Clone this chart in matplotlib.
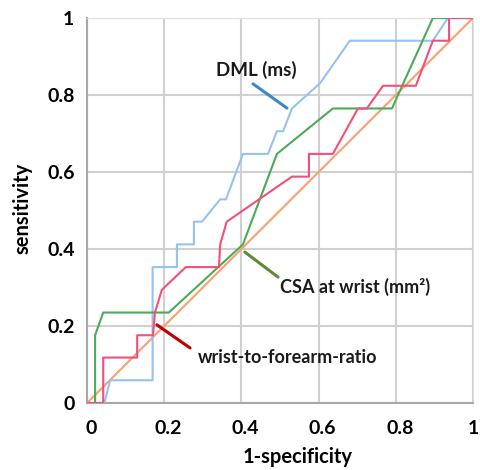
import matplotlib
matplotlib.use("Agg")
import matplotlib.pyplot as plt
from matplotlib.transforms import ScaledTranslation

plt.rcParams['font.family'] = ['Lato', 'DejaVu Sans']

# ROC curves (x = 1-specificity, y = sensitivity)
dml_x = [0, 0.045, 0.06, 0.17, 0.17, 0.233, 0.233, 0.277, 0.277, 0.298, 0.345, 0.36,
         0.404, 0.469, 0.492, 0.508, 0.531, 0.604, 0.681, 0.896, 0.935, 1.0]
dml_y = [0, 0, 0.059, 0.059, 0.353, 0.353, 0.412, 0.412, 0.471, 0.471, 0.529, 0.529,
         0.647, 0.647, 0.706, 0.706, 0.765, 0.831, 0.941, 0.941, 1.0, 1.0]

ratio_x = [0, 0.042, 0.042, 0.13, 0.13, 0.171, 0.176, 0.194, 0.256, 0.342, 0.345, 0.362,
           0.531, 0.575, 0.575, 0.637, 0.702, 0.725, 0.767, 0.852, 0.896, 0.938, 0.938, 1.0]
ratio_y = [0, 0, 0.118, 0.118, 0.176, 0.176, 0.235, 0.294, 0.353, 0.353, 0.412, 0.471,
           0.588, 0.588, 0.647, 0.647, 0.765, 0.765, 0.824, 0.824, 0.941, 0.941, 1.0, 1.0]

csa_x = [0, 0.021, 0.021, 0.042, 0.212, 0.404, 0.492, 0.637, 0.79, 0.896, 1.0]
csa_y = [0, 0, 0.176, 0.235, 0.235, 0.412, 0.647, 0.765, 0.765, 1.0, 1.0]

ref_x = [0, 1]
ref_y = [0, 1]

ticks = [0, 0.2, 0.4, 0.6, 0.8, 1]
tick_labels = ["0", "0.2", "0.4", "0.6", "0.8", "1"]

# callouts: text, text position, leader start, leader end, leader colour
callouts = [
    ("DML (ms)", (0.334, 0.865), (0.430, 0.829), (0.518, 0.766), "#3F86C8"),
    ("CSA at wrist (mm\u00b2)", (0.50, 0.301), (0.409, 0.392), (0.495, 0.327), "#5E8C36"),
    ("wrist-to-forearm-ratio", (0.288, 0.119), (0.181, 0.203), (0.267, 0.143), "#C00000"),
]

fig = plt.figure(figsize=(4.81, 4.70), dpi=100)
ax = fig.add_axes([87 / 481, 67 / 470, 386 / 481, 385 / 470])

ax.plot(ref_x, ref_y, color="#F9A070", lw=1.5, zorder=2)
ax.plot(dml_x, dml_y, color="#94C3EE", lw=1.5, zorder=3)
ax.plot(csa_x, csa_y, color="#4CAA58", lw=1.5, zorder=3)
ax.plot(ratio_x, ratio_y, color="#F2507A", lw=1.5, zorder=4)

ax.set_xlim(0, 1)
ax.set_ylim(0, 1)
ax.set_xticks(ticks)
ax.set_yticks(ticks)
ax.set_xticklabels(tick_labels, fontsize=14, fontweight="bold")
ax.set_yticklabels(tick_labels, fontsize=14, fontweight="bold")
ax.tick_params(length=0)
ax.tick_params(axis="x", pad=12)
ax.tick_params(axis="y", pad=9)
# labels in the reference sit a few px right of their gridline
shift = ScaledTranslation(4 / 100, 0, fig.dpi_scale_trans)
for lbl in ax.get_xticklabels()[:-1]:
    lbl.set_transform(lbl.get_transform() + shift)

ax.grid(True, color="#D0D0D0", lw=1.5)
ax.set_axisbelow(True)
for side in ["top", "right"]:
    ax.spines[side].set_color("#E0E0E0")
for side in ["left", "bottom"]:
    ax.spines[side].set_color("#A8A8A8")
    ax.spines[side].set_linewidth(1.5)

ax.set_xlabel("1-specificity", fontsize=14.5, fontweight="bold")
ax.set_ylabel("sensitivity", fontsize=14.5, fontweight="bold")
ax.xaxis.set_label_coords(0.545, -0.115)
ax.yaxis.set_label_coords(-0.142, 0.505)

for label, txt_pos, start, end, col in callouts:
    ax.annotate("", xy=end, xytext=start,
                arrowprops=dict(arrowstyle="-", color=col, lw=2.2,
                                shrinkA=0, shrinkB=0), zorder=5)
    ax.text(txt_pos[0], txt_pos[1], label, fontsize=13.5 if label.startswith("DML") else 13,
            fontweight="bold", color="#1A1A1A", ha="left", va="center", zorder=5)

fig.savefig("out.png", dpi=100)
